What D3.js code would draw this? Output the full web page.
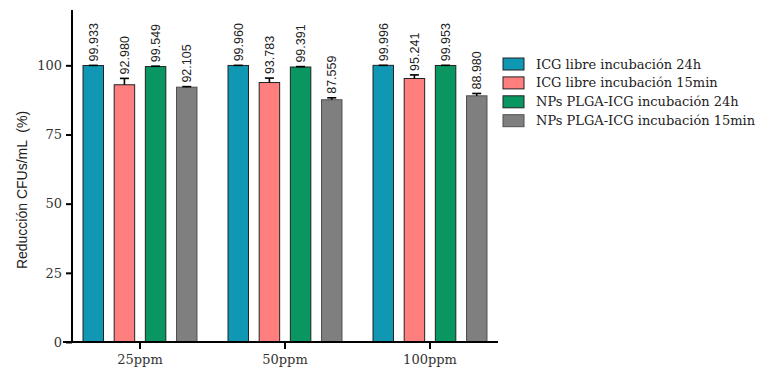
<!DOCTYPE html>
<html>
<head>
<meta charset="utf-8">
<script src="https://cdn.jsdelivr.net/npm/d3@7"></script>
<style>
  body { margin: 0; background: #fff; }
</style>
</head>
<body>
<div id="chart"></div>
<script>
// data
var groups = ["25ppm", "50ppm", "100ppm"];
var seriesNames = [
    "ICG libre incubación 24h",
    "ICG libre incubación 15min",
    "NPs PLGA-ICG incubación 24h",
    "NPs PLGA-ICG incubación 15min"
];
var seriesColors = ["#1097b4", "#ff7f7f", "#0a9660", "#7f7f7f"];
// one array per series, in group order
var libre24 = [99.933, 99.960, 99.996];
var libre15 = [92.980, 93.783, 95.241];
var nps24 = [99.549, 99.391, 99.953];
var nps15 = [92.105, 87.559, 88.980];
// upper error (SD) estimated from the caps
var libre24Err = [0.05, 0.03, 0.01];
var libre15Err = [2.3, 1.6, 1.3];
var nps24Err = [0.15, 0.15, 0.05];
var nps15Err = [0.2, 0.7, 0.85];
var yTicks = [0, 25, 50, 75, 100];

var allValues = [libre24, libre15, nps24, nps15];
var allErrors = [libre24Err, libre15Err, nps24Err, nps15Err];

var svgWidth = 764;
var svgHeight = 372;

var svg = d3.select("#chart")
    .append("svg")
    .attr("width", svgWidth)
    .attr("height", svgHeight);

var plot = { left: 72, right: 498, top: 10, bottom: 342 };

var x0 = d3.scaleBand()
    .domain(groups)
    .range([plot.left, plot.right])
    .paddingInner(0.214)
    .paddingOuter(0.076);

var x1 = d3.scaleBand()
    .domain(seriesNames)
    .range([0, x0.bandwidth()])
    .paddingInner(0.343);

var y = d3.scaleLinear()
    .domain([0, 120])
    .range([plot.bottom, plot.top]);

// flatten into rows for drawing
var rows = [];
groups.forEach(function(g, gi) {
    seriesNames.forEach(function(s, si) {
        rows.push({
            group: g,
            series: s,
            color: seriesColors[si],
            value: allValues[si][gi],
            err: allErrors[si][gi]
        });
    });
});

var barCenter = d => x0(d.group) + x1(d.series) + x1.bandwidth() / 2;

var bars = svg.append("g");

bars.selectAll("rect")
    .data(rows)
    .enter()
    .append("rect")
    .attr("x", d => x0(d.group) + x1(d.series))
    .attr("y", d => y(d.value))
    .attr("width", x1.bandwidth())
    .attr("height", d => y(0) - y(d.value))
    .attr("fill", d => d.color)
    .attr("stroke", d => d.color == "#7f7f7f" ? "#505050" : "#222")
    .attr("stroke-width", 1);

// error bars (upper only)
var errG = svg.append("g")
    .attr("stroke", "#000")
    .attr("stroke-width", 1.6);

errG.selectAll("line.v")
    .data(rows)
    .enter()
    .append("line")
    .attr("class", "v")
    .attr("x1", barCenter)
    .attr("x2", barCenter)
    .attr("y1", d => y(d.value))
    .attr("y2", d => y(d.value + d.err));

errG.selectAll("line.cap")
    .data(rows)
    .enter()
    .append("line")
    .attr("class", "cap")
    .attr("x1", d => barCenter(d) - 4.5)
    .attr("x2", d => barCenter(d) + 4.5)
    .attr("y1", d => y(d.value + d.err))
    .attr("y2", d => y(d.value + d.err));

// value labels, rotated
svg.append("g")
    .selectAll("text")
    .data(rows)
    .enter()
    .append("text")
    .attr("transform", d => `translate(${barCenter(d)}, ${y(d.value + d.err) - 4}) rotate(-90)`)
    .attr("dy", "0.35em")
    .attr("font-family", "Liberation Sans, Arial, sans-serif")
    .attr("font-size", "12.5px")
    .attr("fill", "#222")
    .text(d => d.value.toFixed(3));

// axes
var yAxis = d3.axisLeft(y)
    .tickValues(yTicks)
    .tickSize(6)
    .tickPadding(4);

var yAxisG = svg.append("g")
    .attr("transform", `translate(${plot.left}, 0)`)
    .call(yAxis);

var xAxis = d3.axisBottom(x0)
    .tickSize(7)
    .tickPadding(6);

var xAxisG = svg.append("g")
    .attr("transform", `translate(0, ${plot.bottom})`)
    .call(xAxis);

[yAxisG, xAxisG].forEach(function(g) {
    g.select(".domain").remove();
    g.selectAll(".tick line").attr("stroke", "#000").attr("stroke-width", 2);
    g.selectAll(".tick text")
        .attr("font-family", "DejaVu Serif, serif")
        .attr("font-size", "13px")
        .attr("fill", "#333");
});

// axis lines drawn by hand so they run past the ticks like the original
svg.append("line")
    .attr("x1", plot.left).attr("x2", plot.left)
    .attr("y1", plot.top).attr("y2", plot.bottom + 1)
    .attr("stroke", "#000").attr("stroke-width", 2);
svg.append("line")
    .attr("x1", plot.left - 9).attr("x2", plot.right)
    .attr("y1", plot.bottom).attr("y2", plot.bottom)
    .attr("stroke", "#000").attr("stroke-width", 2);

svg.append("text")
    .attr("transform", `translate(22, ${(plot.top + plot.bottom) / 2 + 14}) rotate(-90)`)
    .attr("text-anchor", "middle")
    .attr("dy", "0.35em")
    .attr("font-family", "Liberation Sans, Arial, sans-serif")
    .attr("font-size", "14px")
    .attr("fill", "#222")
    .style("white-space", "pre")
    .text("Reducción CFUs/mL  (%)");

// legend
var legend = svg.append("g")
    .attr("transform", "translate(503, 58)");

var items = legend.selectAll("g")
    .data(seriesNames)
    .enter()
    .append("g")
    .attr("transform", (d, i) => `translate(0, ${i * 18.9})`);

items.append("rect")
    .attr("width", 21)
    .attr("height", 12)
    .attr("fill", (d, i) => seriesColors[i])
    .attr("stroke", (d, i) => i == 3 ? "#505050" : "#222")
    .attr("stroke-width", 1);

items.append("text")
    .attr("x", 33)
    .attr("y", 6)
    .attr("dy", "0.35em")
    .attr("font-family", "DejaVu Serif, serif")
    .attr("font-size", "13px")
    .attr("fill", "#222")
    .text(d => d);
</script>
</body>
</html>
